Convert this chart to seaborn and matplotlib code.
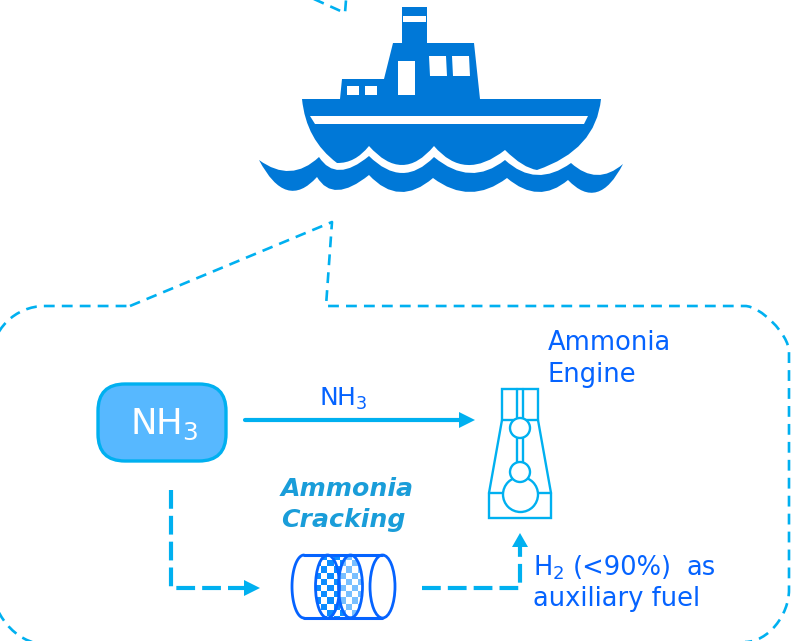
import numpy as np
import matplotlib
matplotlib.use('Agg')
import matplotlib.pyplot as plt
import seaborn as sns
from matplotlib.path import Path
from matplotlib.patches import PathPatch, Polygon, Circle, Ellipse, FancyBboxPatch

sns.set_theme(style='white')
plt.rcParams['font.family'] = ['DejaVu Sans']
plt.rcParams['mathtext.default'] = 'regular'

# colours
ship_blue = '#0078d7'
line_blue = '#00b0f0'
text_blue = '#0563ff'
box_blue = '#57b8ff'
crack_blue = '#1a9dd9'
check_blue = '#0a8cff'

# ship outline, in picture pixels
cabin = [(340, 99), (342, 79), (384, 79), (393, 43), (402, 43), (402, 7), (427, 7), (427, 43),
         (474, 43), (480, 99)]
funnel_stripe = [(403, 16), (426, 16), (426, 22), (403, 22)]
windows = [[(347, 86), (359, 86), (359, 95), (347, 95)],
           [(365, 86), (377, 86), (377, 95), (365, 95)],
           [(398, 61), (415, 61), (415, 95), (398, 95)],
           [(429, 56), (446, 56), (447, 76), (430, 76)],
           [(452, 56), (469, 56), (470, 76), (453, 76)]]
hull_stripe = [(310, 116), (588, 116), (584, 124), (315, 124)]
hull_peaks = [(337, 163), (369, 146), (434, 146), (505, 150), (537, 170)]
hull_dips = [(354, 159), (402, 165), (467, 165), (522, 164)]
wave_top_peaks = [(259, 160), (319, 157), (369, 156), (434, 157), (505, 160), (571, 163), (623, 164)]
wave_top_dips = [(290, 171), (340, 170), (402, 173), (470, 173), (537, 175), (597, 175)]
wave_low_peaks = [(623, 164), (568, 180), (507, 178), (433, 178), (369, 175), (317, 177), (259, 160)]
wave_low_dips = [(597, 192), (538, 192), (470, 192), (400, 192), (338, 190), (287, 190)]

# dashed callout
outline_pts = [(130, 306), (332, 222), (326, 306), (745, 306), (760, 306), (789, 334), (789, 352),
               (789, 590), (789, 615), (768, 642), (745, 642), (45, 644), (15, 644), (-9, 612), (-9, 582),
               (-9, 360), (-9, 330), (15, 306), (45, 306), (130, 306)]
top_tail_x = [305, 345, 346]
top_tail_y = [-5, 13, 0]

# arrows
solid_x = [245, 460]
solid_y = [420, 420]
dashed1_x = [171, 171, 244]
dashed1_y = [490, 588, 588]
dashed2_x = [422, 520, 520]
dashed2_y = [588, 588, 547]
heads = [[(459, 412), (475, 420), (459, 428)],
         [(244, 580), (260, 588), (244, 596)],
         [(512, 547), (520, 533), (528, 547)]]

# engine
engine_body = [(502, 389), (538, 389), (538, 420), (551, 493), (551, 518), (489, 518), (489, 493), (502, 420)]
engine_lines = [([502, 538], [420, 420]), ([517, 517], [389, 462]), ([523, 523], [389, 462]),
                ([489, 551], [493, 493])]
engine_circles = [(520.5, 494.5, 17.5), (520, 428, 10), (520, 472, 10)]

# cracker
cyl_top = 555
cyl_bottom = 618
cyl_ellipses = [327.5, 350.5, 382.5]
checks = np.array([[(i + j) % 2 for i in range(8)] for j in range(11)])

# labels
label_rows = [(548, 350, 'Ammonia'), (548, 382, 'Engine'), (533, 575, 'H$_2$'),
              (573, 575, '(<90%)'), (687, 575, 'as'), (533, 606, 'auxiliary fuel')]


def scallop(peaks, dips):
    verts = [peaks[0]]
    codes = [Path.MOVETO]
    for k, dip in enumerate(dips):
        p0 = np.array(peaks[k])
        p1 = np.array(peaks[k + 1])
        ctrl = 2 * np.array(dip) - 0.5 * (p0 + p1)
        verts += [tuple(ctrl), tuple(p1)]
        codes += [Path.CURVE3, Path.CURVE3]
    return verts, codes


def dash_line(xs, ys, lw, on, off):
    sns.lineplot(x=xs, y=ys, sort=False, estimator=None, errorbar=None, color=line_blue, lw=lw,
                 linestyle=(0, (on, off)), dash_capstyle='butt', dash_joinstyle='miter', ax=ax)


fig = plt.figure(figsize=(8.07, 6.41), dpi=100)
ax = fig.add_axes([0, 0, 1, 1])

# ship
ax.add_patch(Polygon(cabin, closed=True, fc=ship_blue, ec='none'))
v, c = scallop(hull_peaks, hull_dips)
v = [(302, 99)] + [(306, 140)] + v + [(596, 150), (601, 99), (302, 99)]
c = [Path.MOVETO, Path.CURVE3, Path.CURVE3] + c[1:] + [Path.CURVE3, Path.CURVE3, Path.CLOSEPOLY]
ax.add_patch(PathPatch(Path(v, c), fc=ship_blue, ec='none'))
v1, c1 = scallop(wave_top_peaks, wave_top_dips)
v2, c2 = scallop(wave_low_peaks, wave_low_dips)
ax.add_patch(PathPatch(Path(v1 + v2[1:] + [v1[0]], c1 + c2[1:] + [Path.CLOSEPOLY]), fc=ship_blue, ec='none'))
for w in windows + [funnel_stripe, hull_stripe]:
    ax.add_patch(Polygon(w, closed=True, fc='white', ec='none'))

# dashed callout, flattened because agg clips curves badly off canvas
ol_c = [Path.MOVETO, Path.LINETO, Path.LINETO, Path.LINETO, Path.CURVE4, Path.CURVE4, Path.CURVE4,
        Path.LINETO, Path.CURVE4, Path.CURVE4, Path.CURVE4, Path.LINETO, Path.CURVE4, Path.CURVE4, Path.CURVE4,
        Path.LINETO, Path.CURVE4, Path.CURVE4, Path.CURVE4, Path.LINETO]
flat = Path(outline_pts, ol_c).to_polygons(closed_only=False)[0]
ax.plot(flat[:, 0], flat[:, 1], color=line_blue, lw=1.9, linestyle=(0, (4.1, 2.7)), dash_capstyle='butt')
dash_line(top_tail_x, top_tail_y, 1.9, 4.1, 2.7)

# NH3 box
ax.add_patch(FancyBboxPatch((98 + 27, 384 + 27), 128 - 54, 77 - 54, boxstyle='round,pad=27,rounding_size=27',
                            fc=box_blue, ec=line_blue, lw=2.4))
ax.text(130, 434, 'NH$_3$', color='white', fontsize=25.5, va='baseline')

# arrows
sns.lineplot(x=solid_x, y=solid_y, sort=False, estimator=None, errorbar=None, color=line_blue, lw=3, ax=ax)
dash_line(dashed1_x, dashed1_y, 3, 4.5, 1.7)
dash_line(dashed2_x, dashed2_y, 3, 4.5, 1.7)
for h in heads:
    ax.add_patch(Polygon(h, closed=True, fc=line_blue, ec='none'))

# engine
ax.add_patch(Polygon(engine_body, closed=True, fc='white', ec=line_blue, lw=1.7))
for xs, ys in engine_lines:
    sns.lineplot(x=xs, y=ys, sort=False, estimator=None, errorbar=None, color=line_blue, lw=1.7, ax=ax)
for cx, cy, r in engine_circles:
    ax.add_patch(Circle((cx, cy), r, fc='white', ec=line_blue, lw=1.7, zorder=3))

# cracker, checks clipped between the two middle discs
rx = 12
ry = (cyl_bottom - cyl_top) / 2
cy = (cyl_top + cyl_bottom) / 2
t1 = np.linspace(np.pi / 2, 3 * np.pi / 2, 40)
t2 = np.linspace(-np.pi / 2, np.pi / 2, 40)
clip_pts = np.vstack([np.c_[cyl_ellipses[0] + rx * np.cos(t1), cy - ry * np.sin(t1)],
                      np.c_[cyl_ellipses[1] + rx * np.cos(t2), cy - ry * np.sin(t2)]])
clip_poly = Polygon(clip_pts, closed=True, transform=ax.transData, fc='none', ec='none')
ax.add_patch(clip_poly)
mesh = ax.pcolormesh(315 + 6.2 * np.arange(9), cyl_top - 1 + 6.2 * np.arange(12), checks,
                     cmap=matplotlib.colors.ListedColormap(['white', check_blue]), zorder=2)
mesh.set_clip_path(clip_poly)
ax.add_patch(Ellipse((cyl_ellipses[1], cy), 2 * rx, 2 * ry, fc='white', alpha=0.45, ec='none', zorder=2.5))
ax.add_patch(Ellipse((cyl_ellipses[0], cy), 2 * rx, 2 * ry, fc='none', ec=text_blue, lw=2, zorder=3))
ax.add_patch(Ellipse((cyl_ellipses[1], cy), 2 * rx, 2 * ry, fc='none', ec=text_blue, lw=2, zorder=3))
ax.add_patch(Ellipse((cyl_ellipses[2], cy), 2 * rx + 1, 2 * ry, fc='white', ec=text_blue, lw=2, zorder=3))
left_cap = np.c_[304 + rx * np.cos(t1), cy - ry * np.sin(t1)]
ax.plot(left_cap[:, 0], left_cap[:, 1], color=text_blue, lw=2, zorder=3)
ax.plot([304, 382], [cyl_top, cyl_top], color=text_blue, lw=2.2, zorder=3)
ax.plot([304, 382], [cyl_bottom, cyl_bottom], color=text_blue, lw=2.2, zorder=3)

# text
for x, y, s in label_rows:
    ax.text(x, y, s, color=text_blue, fontsize=18.5, va='baseline')
ax.text(319, 406, 'NH$_3$', color=text_blue, fontsize=18, va='baseline')
ax.text(281, 496, 'Ammonia', color=crack_blue, fontsize=18.2, fontweight='bold', fontstyle='italic', va='baseline')
ax.text(281, 527, 'Cracking', color=crack_blue, fontsize=18.2, fontweight='bold', fontstyle='italic', va='baseline')

ax.set_xlim(0, 807)
ax.set_ylim(641, 0)
ax.axis('off')

fig.savefig('out.png', dpi=100, facecolor='white')
